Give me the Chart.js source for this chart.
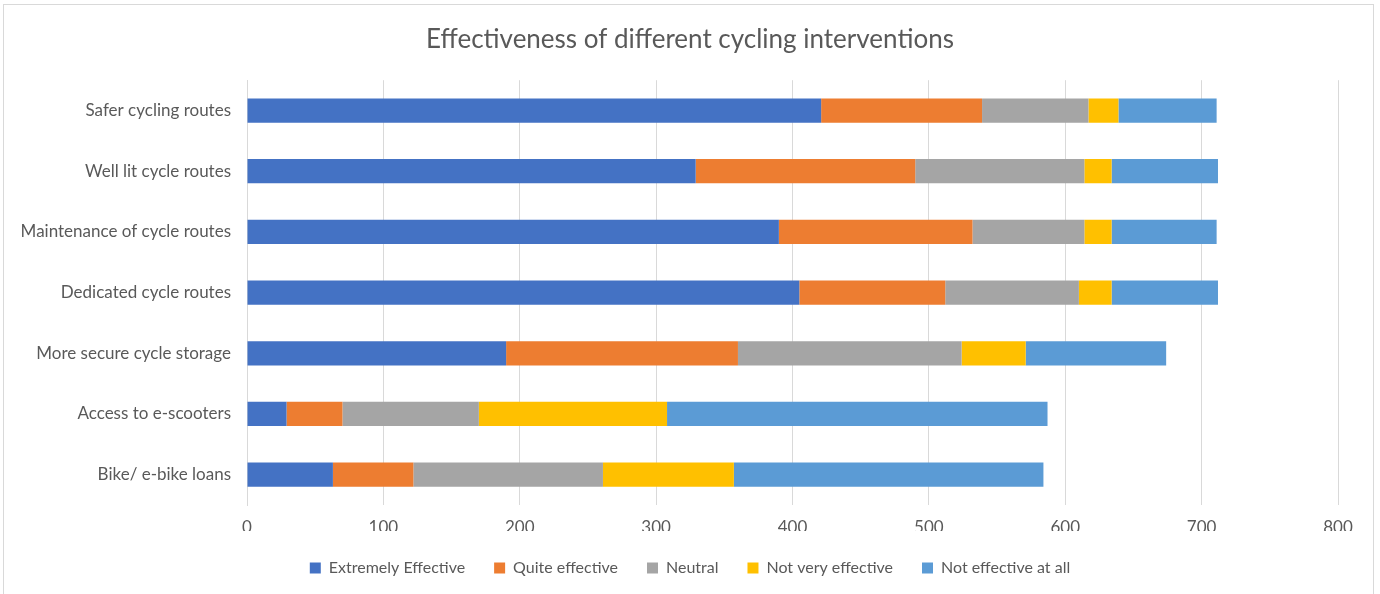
<!DOCTYPE html>
<html>
<head>
<meta charset="utf-8">
<script src="https://cdn.jsdelivr.net/npm/chart.js@4.4.1/dist/chart.umd.min.js"></script>
<style>
  html, body { margin: 0; padding: 0; background: #ffffff; }
  #wrap { position: relative; width: 1380px; height: 594px; }
  #frame { position: absolute; left: 3px; top: 4px; width: 1369px; height: 600px; border: 1px solid #d9d9d9; pointer-events: none; }
</style>
</head>
<body>
<div id="wrap">
  <canvas id="chart" width="1380" height="594"></canvas>
  <div id="frame"></div>
</div>
<script>
const categories = [
  'Safer cycling routes',
  'Well lit cycle routes',
  'Maintenance of cycle routes',
  'Dedicated cycle routes',
  'More secure cycle storage',
  'Access to e-scooters',
  'Bike/ e-bike loans'
];

const extremelyEffective = [421, 329, 390, 405, 190, 29, 63];
const quiteEffective     = [118, 161, 142, 107, 170, 41, 59];
const neutral            = [78, 124, 82, 98, 164, 100, 139];
const notVeryEffective   = [22, 20, 20, 24, 47, 138, 96];
const notEffectiveAtAll  = [72, 78, 77, 78, 103, 279, 227];

const xTicks = [0, 100, 200, 300, 400, 500, 600, 700, 800];

const textColor = '#595959';
const gridColor = '#d9d9d9';
const fontFamily = 'Lato, "Open Sans", sans-serif';

const series = [
  { label: 'Extremely Effective', data: extremelyEffective, color: '#4472C4' },
  { label: 'Quite effective', data: quiteEffective, color: '#ED7D31' },
  { label: 'Neutral', data: neutral, color: '#A5A5A5' },
  { label: 'Not very effective', data: notVeryEffective, color: '#FFC000' },
  { label: 'Not effective at all', data: notEffectiveAtAll, color: '#5B9BD5' }
];

// title and legend are centred on the whole frame, not on the area left of the right margin
const centreOnFrame = {
  id: 'centreOnFrame',
  afterLayout(chart) {
    const shift = chart.width - chart.chartArea.right;
    if (chart.titleBlock) chart.titleBlock.left += shift;
    if (chart.legend) chart.legend.left += shift;
  }
};

new Chart(document.getElementById('chart'), {
  type: 'bar',
  data: {
    labels: categories,
    datasets: series.map(s => ({
      label: s.label,
      data: s.data,
      backgroundColor: s.color,
      borderWidth: 0,
      barPercentage: 1,
      categoryPercentage: 0.4
    }))
  },
  options: {
    indexAxis: 'y',
    responsive: false,
    animation: false,
    layout: { padding: { left: 0, right: 42, top: 0, bottom: 8 } },
    scales: {
      x: {
        stacked: true,
        min: 0,
        max: 800,
        afterBuildTicks: axis => { axis.ticks = xTicks.map(v => ({ value: v })); },
        grid: { color: gridColor, drawTicks: false },
        border: { display: false },
        ticks: { color: textColor, font: { family: fontFamily, size: 17 }, padding: 12 },
        afterFit: axis => { axis.height = 26; }
      },
      y: {
        stacked: true,
        grid: { display: false },
        border: { display: true, color: gridColor },
        ticks: { color: textColor, font: { family: fontFamily, size: 17 }, padding: 8 },
        afterFit: axis => { axis.width = 247; }
      }
    },
    plugins: {
      title: {
        display: true,
        text: 'Effectiveness of different cycling interventions',
        color: textColor,
        font: { family: fontFamily, size: 26, weight: 'normal' },
        padding: { top: 24, bottom: 25 }
      },
      legend: {
        position: 'bottom',
        labels: {
          color: textColor,
          font: { family: fontFamily, size: 16 },
          boxWidth: 11,
          boxHeight: 11,
          padding: 29
        }
      },
      tooltip: { enabled: false }
    }
  },
  plugins: [centreOnFrame]
});
</script>
</body>
</html>
